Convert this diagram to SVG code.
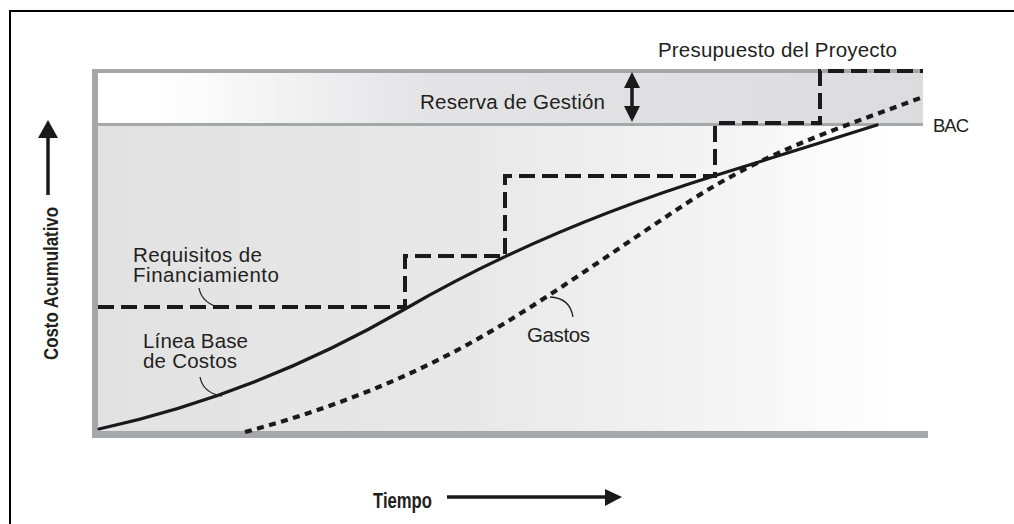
<svg xmlns="http://www.w3.org/2000/svg" width="1014" height="524" viewBox="0 0 1014 524">
  <defs>
    <linearGradient id="gReserve" x1="98" y1="0" x2="923" y2="0" gradientUnits="userSpaceOnUse">
      <stop offset="0" stop-color="#ffffff"/>
      <stop offset="0.07" stop-color="#ffffff"/>
      <stop offset="0.4" stop-color="#e4e4e6"/>
      <stop offset="1" stop-color="#dcdcde"/>
    </linearGradient>
    <linearGradient id="gMain" x1="98" y1="0" x2="923" y2="0" gradientUnits="userSpaceOnUse">
      <stop offset="0" stop-color="#e2e2e3"/>
      <stop offset="0.45" stop-color="#e8e8e9"/>
      <stop offset="0.75" stop-color="#f4f4f5"/>
      <stop offset="0.97" stop-color="#ffffff"/>
    </linearGradient>
    <style>
      .lbl { font-family: "Liberation Sans", Arial, sans-serif; font-size: 20.5px; fill: #231f20; }
      .axis { font-family: "Liberation Sans", Arial, sans-serif; font-weight: bold; fill: #231f20; }
      .gray { stroke: #a6a7aa; fill: none; }
      .leader { stroke: #231f20; stroke-width: 1.3; fill: none; }
      .solid { stroke: #1a1a1a; stroke-width: 3.2; fill: none; stroke-linecap: round; }
      .fund { stroke: #1a1a1a; stroke-width: 4; fill: none; stroke-dasharray: 16 7; }
      .spend { stroke: #1a1a1a; stroke-width: 4.2; fill: none; stroke-dasharray: 7 5.5; }
      .arrowhead { fill: #1a1a1a; }
    </style>
  </defs>

  <rect width="1014" height="524" fill="#ffffff"/>
  <!-- outer frame -->
  <rect x="10" y="11" width="1012" height="520" fill="none" stroke="#000" stroke-width="2"/>

  <!-- chart background -->
  <g id="chart-area">
    <rect x="98" y="73" width="825" height="50" fill="url(#gReserve)"/>
    <rect x="98" y="126" width="830" height="306" fill="url(#gMain)"/>
    <line class="gray" x1="92" y1="71" x2="923" y2="71" stroke-width="4"/>
    <line class="gray" x1="98" y1="124.5" x2="923" y2="124.5" stroke-width="3"/>
    <rect x="92" y="69" width="6" height="369" fill="#a6a7aa"/>
    <rect x="92" y="431" width="836" height="7" fill="#a6a7aa"/>
  </g>

  <!-- curves and leaders -->
  <g id="connectors">
    <path id="funding" class="fund" d="M98,307 H405 V256 H505 V176 H715 V123 H820 V71 H923"/>
    <path id="baseline" class="solid" d="M99,429 C199,407 305,367 405,309 C505,251 617,206 717,175 C770,158.5 824,141.5 877,125"/>
    <path id="spending" class="spend" d="M245,432 C330,409 415,377 500,326 C563,288 627,242 690,201 C768,150.3 845,126 923,97"/>
    <path class="leader" d="M199,288 Q202,304 222,308"/>
    <path class="leader" d="M200,377 Q203,393 222,396"/>
    <path class="leader" d="M550,297 Q570,298 573,317"/>
    <!-- reserve double arrow -->
    <g id="reserve-arrow">
      <line x1="632" y1="84" x2="632" y2="110" stroke="#1a1a1a" stroke-width="3.5"/>
      <polygon class="arrowhead" points="632,72 640,88 624,88"/>
      <polygon class="arrowhead" points="632,122 640,106 624,106"/>
    </g>
    <!-- y axis arrow -->
    <g id="y-arrow">
      <line x1="48" y1="134" x2="48" y2="195" stroke="#1a1a1a" stroke-width="3.5"/>
      <polygon class="arrowhead" points="48,120 58,138 38,138"/>
    </g>
    <!-- x axis arrow -->
    <g id="x-arrow">
      <line x1="447" y1="497" x2="609" y2="497" stroke="#1a1a1a" stroke-width="3.5"/>
      <polygon class="arrowhead" points="622,497 605,489 605,506"/>
    </g>
  </g>

  <g id="label-presupuesto"><text class="lbl" x="658" y="57" textLength="239" lengthAdjust="spacing">Presupuesto del Proyecto</text></g>
  <g id="label-reserva"><text class="lbl" x="420" y="109" textLength="185" lengthAdjust="spacing">Reserva de Gestión</text></g>
  <g id="label-bac"><text class="lbl" x="933" y="132" style="font-size:18.5px" textLength="36" lengthAdjust="spacing">BAC</text></g>
  <g id="label-requisitos">
    <text class="lbl" x="133" y="262" textLength="129" lengthAdjust="spacing">Requisitos de</text>
    <text class="lbl" x="133" y="282" textLength="146" lengthAdjust="spacing">Financiamiento</text>
  </g>
  <g id="label-linea">
    <text class="lbl" x="143" y="348" textLength="105" lengthAdjust="spacing">Línea Base</text>
    <text class="lbl" x="143" y="368" textLength="94" lengthAdjust="spacing">de Costos</text>
  </g>
  <g id="label-gastos"><text class="lbl" x="527" y="342" textLength="63" lengthAdjust="spacing">Gastos</text></g>
  <g id="label-y"><text class="axis" transform="translate(58,360) rotate(-90)" style="font-size:20px" textLength="153" lengthAdjust="spacingAndGlyphs">Costo Acumulativo</text></g>
  <g id="label-x"><text class="axis" x="373" y="507.5" style="font-size:22.5px" textLength="59" lengthAdjust="spacingAndGlyphs">Tiempo</text></g>
</svg>
